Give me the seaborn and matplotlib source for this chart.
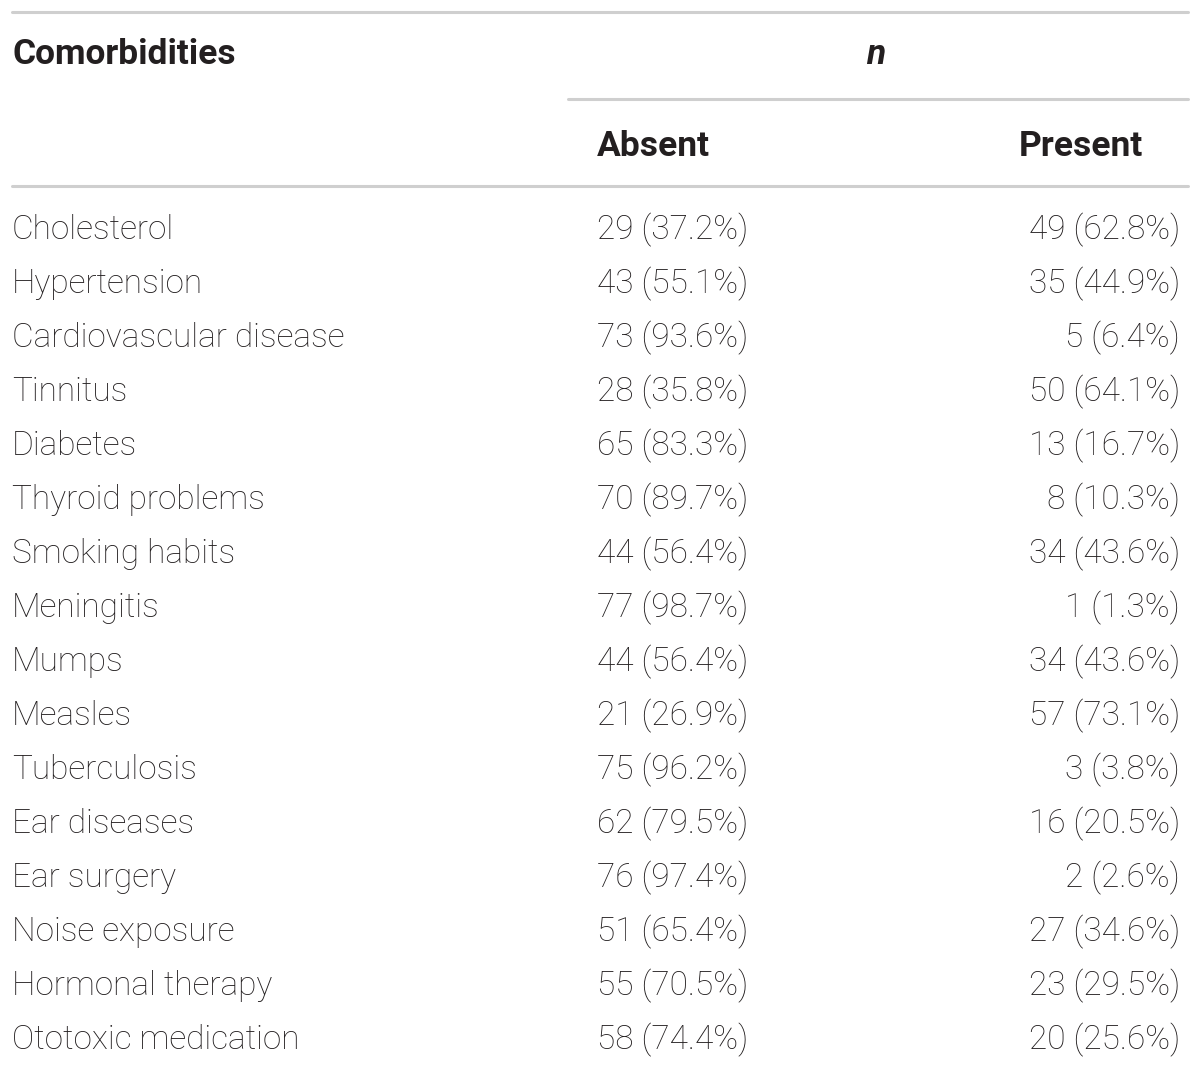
import matplotlib.pyplot as plt
import seaborn as sns

# table contents
comorbidities = ["Cholesterol", "Hypertension", "Cardiovascular disease", "Tinnitus",
                 "Diabetes", "Thyroid problems", "Smoking habits", "Meningitis",
                 "Mumps", "Measles", "Tuberculosis", "Ear diseases", "Ear surgery",
                 "Noise exposure", "Hormonal therapy", "Ototoxic medication"]
absent_n = [29, 43, 73, 28, 65, 70, 44, 77, 44, 21, 75, 62, 76, 51, 55, 58]
absent_pct = [37.2, 55.1, 93.6, 35.8, 83.3, 89.7, 56.4, 98.7, 56.4, 26.9, 96.2, 79.5, 97.4, 65.4, 70.5, 74.4]
present_n = [49, 35, 5, 50, 13, 8, 34, 1, 34, 57, 3, 16, 2, 27, 23, 20]
present_pct = [62.8, 44.9, 6.4, 64.1, 16.7, 10.3, 43.6, 1.3, 43.6, 73.1, 3.8, 20.5, 2.6, 34.6, 29.5, 25.6]

sns.set_theme(style="white")
plt.rcParams['font.family'] = ['Roboto', 'DejaVu Sans']

fig = plt.figure(figsize=(12, 10.7), dpi=100)
ax = fig.add_axes([0, 0, 1, 1])
ax.set_xlim(0, 1200)
ax.set_ylim(1070, 0)
ax.axis("off")

line_col = "#cfcfcf"
txt_col = "#231f20"
fs = 24
fs_head = 25.5

# rules
ax.plot([12, 1188], [12, 12], color=line_col, lw=2.2)
ax.plot([568, 1188], [99, 99], color=line_col, lw=2.2)
ax.plot([12, 1188], [186, 186], color=line_col, lw=2.2)

# header
ax.text(12, 54, "Comorbidities", fontsize=fs_head, fontweight="bold", color=txt_col, va="center")
ax.text(876, 54, "n", fontsize=fs_head, fontweight="bold", style="italic", color=txt_col,
        va="center", ha="center")
ax.text(597, 147, "Absent", fontsize=fs_head, fontweight="bold", color=txt_col, va="center")
ax.text(1143, 147, "Present", fontsize=fs_head, fontweight="bold", color=txt_col, va="center", ha="right")

y0, dy = 230, 54
for i, name in enumerate(comorbidities):
    y = y0 + i * dy
    ax.text(12, y, name, fontsize=fs, fontweight="light", color=txt_col, va="center")
    ax.text(597, y, f"{absent_n[i]} ({absent_pct[i]}%)", fontsize=fs, fontweight="light",
            color=txt_col, va="center")
    ax.text(1180, y, f"{present_n[i]} ({present_pct[i]}%)", fontsize=fs, fontweight="light",
            color=txt_col, va="center", ha="right")

fig.savefig("out.png", dpi=100, facecolor="white")
